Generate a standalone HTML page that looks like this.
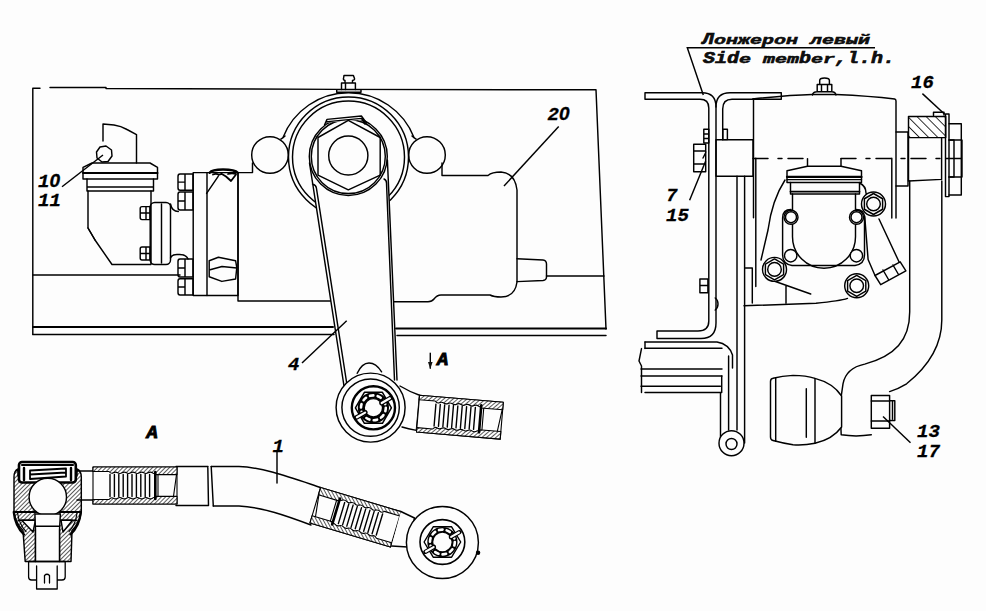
<!DOCTYPE html>
<html><head><meta charset="utf-8"><title>Steering gear</title>
<style>
html,body{margin:0;padding:0;background:#fdfdfd;}
body{width:986px;height:611px;overflow:hidden;}
svg{display:block;}
.lbl{font-family:"Liberation Mono",monospace;font-weight:bold;font-style:italic;font-size:19px;fill:#000;stroke:#000;stroke-width:0.3px;}
.z{font-family:"Liberation Sans",sans-serif;}
.mono{font-family:"Liberation Mono",monospace;font-weight:bold;font-style:italic;font-size:20px;fill:#111;}
</style></head>
<body>
<svg width="986" height="611" viewBox="0 0 986 611">
<defs>
<pattern id="hat" patternUnits="userSpaceOnUse" width="3" height="3" patternTransform="rotate(45)">
<rect width="3" height="3" fill="#fff"/><line x1="0" y1="0" x2="0" y2="3" stroke="#000" stroke-width="1.3"/>
</pattern>
<pattern id="hat2" patternUnits="userSpaceOnUse" width="6.5" height="6.5" patternTransform="rotate(-45)">
<rect width="6.5" height="6.5" fill="#fff"/><line x1="0" y1="0" x2="0" y2="6.5" stroke="#000" stroke-width="1.6"/>
</pattern>
<g id="sleeve" fill="none" stroke="#000" stroke-width="1.1">
<rect x="0" y="0" width="84" height="37" fill="#fdfdfd"/>
<path fill="url(#hat)" d="M0 0 V4.5 H16 Q18.18 7.10 20.35 5.80 Q22.53 4.50 24.70 5.80 Q26.88 7.10 29.05 5.80 Q31.23 4.50 33.40 5.80 Q35.58 7.10 37.75 5.80 Q39.93 4.50 42.10 5.80 Q44.28 7.10 46.45 5.80 Q48.63 4.50 50.80 5.80 Q52.98 7.10 55.15 5.80 Q57.33 4.50 59.50 5.80 Q60.75 7.10 62.00 5.80 V7.6 H84 V0 Z"/>
<path fill="url(#hat)" d="M0 37 V32.5 H16 Q18.18 29.90 20.35 31.20 Q22.53 32.50 24.70 31.20 Q26.88 29.90 29.05 31.20 Q31.23 32.50 33.40 31.20 Q35.58 29.90 37.75 31.20 Q39.93 32.50 42.10 31.20 Q44.28 29.90 46.45 31.20 Q48.63 32.50 50.80 31.20 Q52.98 29.90 55.15 31.20 Q57.33 32.50 59.50 31.20 Q60.75 29.90 62.00 31.20 V29.4 H84 V37 Z"/>
<path d="M17.0 7.5 V29.5 M21.4 7.5 V29.5 M25.8 7.5 V29.5 M30.2 7.5 V29.5 M34.6 7.5 V29.5 M39.0 7.5 V29.5 M43.4 7.5 V29.5 M47.8 7.5 V29.5 M52.2 7.5 V29.5 M56.6 7.5 V29.5" stroke-width="1.4"/>
<path d="M62.3 5 V32" stroke-width="2.6"/>
<path d="M65 7.6 V29.4"/>
<path d="M83.5 7.6 L80.5 29.4"/>
</g>
<g id="eye1" fill="none" stroke="#000" stroke-width="1.45">
<circle r="34.5" fill="#fdfdfd"/>
<circle r="28.7"/>
<g transform="translate(2.8 0.2)">
<circle r="21.6" stroke-width="2.4"/>
<path d="M-9 -15.5 H9 L18 0 L9 15.5 H-9 L-18 0 Z" stroke-width="1.5"/>
<circle r="12.4" stroke-width="6.4"/>
<circle r="12.4" stroke="#fdfdfd" stroke-width="2.6" stroke-dasharray="3.4 4.4"/>
<circle r="9.2" fill="#fdfdfd" stroke-width="1.4"/>
<path d="M8 -4.6 L17 -9.8 M-8 4.6 L-17 9.8" stroke-width="4.6"/>
<path d="M8.3 -4.8 L16.5 -9.5 M-8.3 4.8 L-16.5 9.5" stroke="#fdfdfd" stroke-width="2.2"/>
</g>
</g>
<g id="eye2" fill="none" stroke="#000" stroke-width="1.45">
<circle r="36" fill="#fdfdfd"/>
<g transform="translate(0 -0.5)">
<circle r="22.4" stroke-width="1.6"/>
<path d="M-9.2 -15.2 H9.2 L18.3 0 L9.2 15.2 H-9.2 L-18.3 0 Z" stroke-width="1.4"/>
<circle r="12.4" stroke-width="5.4"/>
<circle r="12.4" stroke="#fdfdfd" stroke-width="2.6" stroke-dasharray="3.6 4.2"/>
<circle r="9.8" fill="#fdfdfd" stroke-width="1.3"/>
<path d="M8.5 -4.9 L17 -9.8 M-8.5 4.9 L-17 9.8" stroke-width="4.4"/>
<path d="M8.8 -5.1 L16.5 -9.5 M-8.8 5.1 L-16.5 9.5" stroke="#fdfdfd" stroke-width="2.2"/>
</g>
</g>
<g id="nut" fill="none" stroke="#000" stroke-width="1.45">
<circle r="12" fill="#fdfdfd"/>
<path d="M0 -10.5 L9.1 -5.25 V5.25 L0 10.5 L-9.1 5.25 V-5.25 Z"/>
<circle r="6.8"/>
</g>
</defs>
<g fill="none" stroke="#000" stroke-width="1.45" stroke-linejoin="round" stroke-linecap="round">

<!-- ===== LEFT VIEW FRAME ===== -->
<path d="M32.8 88.3 V334.5 M32.8 88.3 H40 M50 87.4 H106 V88.5 L337 89.4 L596 89.8 L606 329"/>
<path d="M33 327 H333" stroke-width="2"/>
<path d="M33 334.5 H334"/>
<path d="M396 328.5 H606" stroke-width="2"/>
<path d="M397 335.5 H606"/>
<path d="M33 275 H180"/>
<path d="M546.5 276 H604"/>

<!-- ===== PUMP (10/11) ===== -->
<path d="M103 141 V124 L114 125 Q121 126 127 129.5 L136.5 134.6 V163"/>
<path d="M100 147 L106 146 L111.5 150 L112 156 L108 161.5 L102 162 L97 158 L96.5 152 Z" fill="#fdfdfd"/>
<path d="M92 163 H150 L157.5 167.4 V179 H83 V167.4 Z"/>
<path d="M83 173 H157.5" stroke-width="2"/>
<path d="M87 179 V191 H153.5 V179 M87 187 H153.5"/>
<path d="M88 191 V228 L95 240 L112 264.5 H151 V191"/>
<path d="M88 228 L95 240"/>
<rect x="150.2" y="202.5" width="20.3" height="62" rx="4.5"/>
<path d="M161.5 204 V263"/>
<path d="M142 206.6 h8 v13 h-8 q-1.8 0 -1.8 -2 v-9 q0 -2 1.8 -2 z M146 206.6 v13 M140.2 213 h9.8 M142 247 h8 v13 h-8 q-1.8 0 -1.8 -2 v-9 q0 -2 1.8 -2 z M146 247 v13 M140.2 253.5 h9.8"/>
<path d="M170.5 204 Q172 211.5 178.3 211.5 M170.5 258 Q172 254 178.3 254.5 Q186 254 188 259"/>

<!-- ===== GEARBOX (left view) ===== -->
<path d="M180 174 h13 v16.2 h-13 q-2 0 -2 -2.5 v-11.2 q0 -2.5 2 -2.5 z M185 174 v16.2 M178 182.1 h7"/>
<path d="M180 192 h13 v18.0 h-13 q-2 0 -2 -2.5 v-13.0 q0 -2.5 2 -2.5 z M185 192 v18.0 M178 201.0 h7"/>
<path d="M180 259 h13 v18.0 h-13 q-2 0 -2 -2.5 v-13.0 q0 -2.5 2 -2.5 z M185 259 v18.0 M178 268.0 h7"/>
<path d="M180 278.7 h13 v16.3 h-13 q-2 0 -2 -2.5 v-11.3 q0 -2.5 2 -2.5 z M185 278.7 v16.3 M178 286.9 h7"/>
<rect x="193.2" y="172.6" width="13.8" height="122.9"/>
<path d="M207 172.6 H238 V295.5 H207"/>
<path d="M206.6 193.4 L218.2 176.4"/>
<path d="M209.6 172.8 Q212 169.5 223 169.5 Q235 169.5 237.8 172.8" stroke-width="2.3"/>
<path d="M213 174.5 Q216 173 219 174.8 M218.5 175 L221.5 173.8 L226 176.5 L231 181 L236 174.5 M228 174 Q232 172.5 236 174" stroke-width="1.8"/>
<path d="M209.2 260.7 L218.4 257.2 L235.6 260.7 L236.8 267.6 L235.6 279 L221.8 281.4 L209.2 276.8 Z M209.2 270 L222 266.5 L236.8 268"/>
<path d="M238 172.6 V301 H331"/>
<path d="M238 172.6 H252.5 V163"/>
<!-- right part of box -->
<path d="M442 163 V175.5 H488 Q492 172 501 172 Q515 173 517 190 V282 Q515 297 501 297 Q494 297 490 295 H441 Q437 295 434 299 Q432 301.7 428 301.7 H392.5"/>
<path d="M517 258.7 L543 260 Q546.5 260.5 546.5 264 V277 Q546.5 280 543 280.5 L517 281.6"/>
<!-- bosses -->
<circle cx="270" cy="155" r="18.3"/>
<circle cx="427" cy="155" r="18.3"/>
<!-- housing rings -->
<path d="M283 137.5 A70.3 70.3 0 0 1 414 137.5"/>
<path d="M281 139 Q283 138 285 136 M416 139 Q414 138 412 136"/>
<circle cx="348.5" cy="157" r="60"/>
<circle cx="348.5" cy="157" r="56"/>
<!-- lever arm -->
<path fill="#fdfdfd" stroke="none" d="M309.5 163 L344 386 L397 380 L387.4 160 Z"/>
<circle cx="348.3" cy="156.5" r="39" fill="#fdfdfd"/>
<circle cx="348.3" cy="156.5" r="37"/>
<path d="M309.5 163 L344 386 M312.5 184 Q316 185 316.4 188 L347 385 M387.4 160 L397 380 M384 179 Q386.5 180 386.5 183 L394.5 380"/>
<path fill="#fdfdfd" stroke="none" d="M322 116 H372 V119 L328 122.5 Z"/>
<path d="M324.5 125 L327 119.4 L361.4 116 L366.5 123 M326 122 L328 121.6 L361.5 118.4 L365 124"/>
<!-- hex + shaft -->
<path d="M348.3 120.3 L380.2 137.5 V175.1 L348.3 189.8 L318 175.1 V137.5 Z"/>
<circle cx="348.3" cy="155.5" r="19.6"/>
<!-- top bolt -->
<path fill="#fdfdfd" d="M336.7 89.6 H361 V92.3 H336.7 Z"/>
<path d="M341.5 89.6 V83 H355.4 V89.6 M345.5 83 V89.6 M345 83 V80.5 Q343 80 343.5 78.5 L344 75.4 H353.4 L354.5 78.5 Q355 80 352.5 80.5 V83"/>

<!-- ===== LEVER BALL JOINT (center) ===== -->
<path fill="#fdfdfd" d="M357.2 373.3 Q362 363 369 363 Q376 363 381.6 371.8"/>
<path fill="#fdfdfd" d="M400 386 Q410 392 419.6 395.2 L416.4 430.4 Q408 429 402 427"/>
<g transform="translate(419.6 395.2) rotate(4.8)"><use href="#sleeve"/></g>
<g transform="translate(370.6 407.6)"><use href="#eye1"/></g>

<!-- ===== BOTTOM TIE ROD ===== -->
<!-- left ball joint -->
<g id="bj">
<path fill="url(#hat)" d="M14 477 Q14 471 18 469 V476 H77 V469 Q81.3 471 81.3 477 V512 Q80 522 72 530.6 L71 561.5 H59.5 V530 Q58 522 55 515 L40 515 Q37 522 35.5 530 V561.5 H25.2 L23 530.6 Q15 522 14 512 Z"/>
<path d="M14.5 512 H81" stroke-width="2"/>
<path d="M18 520.2 H77"/>
<path fill="#fdfdfd" d="M21.7 520.2 L35.5 520.2 L33 532 Z M61 520.2 L72.5 520.2 L63 532 Z"/>
<path d="M13.8 512 Q15 526 24 534.5 M80.8 512 Q79.5 526 70.5 534.5" stroke-width="2.4"/>
<path d="M17.5 513 Q19.5 525 26 531.5 M77 513 Q75.5 525 69 531.5" stroke-width="1.2"/>
<rect x="19" y="462" width="56.8" height="20.5" rx="3" fill="#fdfdfd" stroke-width="2.6"/>
<path d="M22 465 H73" stroke-width="2.2"/>
<path d="M24 468 V480 M71 468 V480" stroke-width="2.4"/>
<path d="M30 470.5 L66 468.5 M30 474.5 L66 472.5 M30 479 L66 476.5 M30 470.5 V479 M66 468.5 V476.5" stroke-width="1.8"/>
<circle cx="47.8" cy="497" r="18.7" fill="#fdfdfd" stroke-width="1.4"/>
<path fill="#fdfdfd" d="M34.9 514 H60.4 L59.5 530 V561.5 H35.5 V530 Z"/>
<path d="M36 526.3 H59" />
<path d="M28.6 561.5 H65.2 V577 Q65.2 580 62 580 H57.2 V589 H36.6 V580 H31.6 Q28.6 580 28.6 577 Z M36.6 579.8 V566 M57.2 579.8 V566 M44.5 583 V575.5 Q47 573 49.5 575.5 V583" stroke-width="1.3"/>
</g>
<path d="M77 471 H93 M77 500 H93"/>
<g transform="translate(93 467)"><use href="#sleeve"/></g>
<path d="M176 466.5 H208 M176 505.5 H208.5 M207.8 466.5 L208.5 505.5 M211.2 466.5 L213.3 506"/>
<path d="M211.2 466.5 H239 C262 467 292 478 320.6 487.5 M213.3 506 H239 C262 507 287 516 311 525"/>
<g transform="translate(320.6 487.5) rotate(16.7) translate(84 0) scale(-1 1)"><use href="#sleeve"/></g>
<path fill="#fdfdfd" d="M400.8 511.5 L414.5 518 L407.7 547 L391.6 546"/>
<g transform="translate(442.4 542.5)"><use href="#eye2"/></g>
<circle cx="478.1" cy="552.8" r="2.2" fill="#000" stroke="none"/>
<path d="M277 452 V483"/>

<!-- ===== RIGHT VIEW ===== -->
<!-- side member (left Z channel) -->
<path d="M645 92.8 H702 Q716 92.8 716 107 V323 Q716 338.5 701 338.5 H657 V331 H698 Q708.8 331 708.8 321 V108 Q708.8 99.3 700 99.3 H645 Z"/>
<!-- bracket channel -->
<path d="M781.3 92.8 H730 Q716 92.8 716 107 M781.3 92.8 V99.3 H732 Q722.7 99.3 722.7 109 V139.8"/>
<rect x="716" y="139.8" width="37" height="36.4"/>
<path d="M703.8 129.3 h5 v13.7 h-5 z M703.8 134 h5 M703.8 138.5 h5 M722.8 129.3 h4.6 v10.3 h-4.6 z"/>
<path d="M693.7 144.2 h12 v27.5 h-12 z M693.7 151 h12 M693.7 164 h12 M703 158 l3 -6"/>
<path d="M699.9 279 h8 v13.8 h-8 z M699.9 285.5 h8"/>
<path d="M715.2 298 Q718 300 718 304 Q718 308 715.2 310"/>
<!-- long rod + lower bracket -->
<path d="M737 176.2 V430 M744.6 176.2 V443"/>
<path d="M645 342 H717 Q729 344 732.5 355 V368 M728.6 356 V430 M721.7 376 V392.4 M720.5 392.4 V437"/>
<path d="M645 348.2 H722 M641 369 H722 M641 376 H722 M641 386.3 H720.4 M645 392.4 H720.4"/>
<path d="M645 342 V348.6 M641.5 348.6 L639 361 L641.5 366 V392.4"/>
<circle cx="731.5" cy="443.2" r="12.5" fill="#fdfdfd"/>
<circle cx="731.5" cy="444" r="5.5"/>
<!-- main housing -->
<path d="M752.7 99 Q790 95 812 94.5 H836 Q870 96 894.7 99 Q896 99.5 896 101 V218"/>
<path d="M891.8 158.3 V218 M755.8 158.3 V286.5 M753.5 99 V217.7 M745.4 268 H752.3 V303"/>
<path d="M812.4 95 Q813 91.8 817 91.8 H831.8 Q835.5 91.8 835.9 95 M817.2 91.8 V84.5 H831.8 V91.8 M821.5 84.5 V91.8 M827.5 84.5 V91.8 M819.7 84.5 V80.5 Q819.7 78 824.5 78 Q829.4 78 829.4 80.5 V84.5"/>
<path d="M753 158.5 H808 M841 158.5 H962" stroke-dasharray="15 10 4 6"/>
<!-- pin and hub (16) -->
<path d="M896 132 H908 V186 H896"/>
<rect x="908.5" y="116.4" width="37.2" height="21.2" fill="url(#hat2)"/>
<path d="M908.5 137.6 V181 L941.6 179.4 V137.6"/>
<path d="M933.5 115.5 V112.3 H944 V115"/>
<rect x="945.5" y="114" width="3.5" height="82.6"/>
<path d="M949 123.7 H961.3 V195 H949 M949 140 H961.3 M949 177 H961.3 M962 140 V177" />
<path d="M949 140 H954 V177 H949"/>
<!-- pump on right view -->
<path fill="#fdfdfd" d="M787 182.5 V170.8 L807.5 166.2 H841 L861.5 170.8 V182.5 Z"/>
<path d="M807.5 158.6 V166.2 M841 158.6 V166.2"/>
<path d="M787 176.9 H861.5" stroke-width="2.2"/>
<path d="M787 179.6 H861.5"/>
<path d="M790.5 182.5 V194 M859.5 182.5 V194 M790.5 194 H859.5"/>
<path d="M790.5 191.6 H859.5" stroke-width="1.8"/>
<path d="M792.5 194 V236.8 A31.5 31.5 0 0 0 855.5 236.8 V194"/>
<path d="M859.5 183 Q866 186 866 193 L868 198"/>
<path d="M782.6 218 Q782.6 209.5 791 209.5 M782.6 218 V255 Q782.6 264 792 265.5 H855 Q864.5 264 864.5 255 V218 Q864.5 209.5 856 209.5"/>
<circle cx="791" cy="217.2" r="7" fill="#fdfdfd"/><circle cx="791" cy="217.2" r="5.5"/>
<circle cx="856.5" cy="217.2" r="7" fill="#fdfdfd"/><circle cx="856.5" cy="217.2" r="5.5"/>
<circle cx="790.7" cy="255.7" r="6.2" fill="#fdfdfd"/>
<circle cx="856.4" cy="255.7" r="6.2" fill="#fdfdfd"/>
<path d="M785 180 Q772 200 768 230 L761 260"/>
<path d="M774 281 L810.7 294 M786 286 L786 303.2"/>
<path d="M744 305.8 Q790 304 816 303.2 Q840 301 847.5 298.4"/>
<path d="M864.7 216 L868.1 259.5 L875 275.5 M879 219 L899 261.8"/>
<path d="M875 275.5 L880.7 284.7 L905.9 270.9 L900.2 261.8 Z M883 270 L888.5 279.5 M893 265 L898.5 274.5"/>
<!-- hex nuts right view -->
<g transform="translate(873.5 204)"><use href="#nut"/></g>
<g transform="translate(774.5 269.4)"><use href="#nut"/></g>
<g transform="translate(856.7 285.8)"><use href="#nut"/></g>
<!-- steering arm -->
<path d="M909.7 181 V312 C909.7 340 895 356 864.7 364.1 Q846 368 843 383.8 L840 404.7 L841.2 434.8 Q856 437 871.3 434.8"/>
<path d="M941.8 181 V320 C941.8 345 930 365 906.6 383.8 Q898 389 889.6 391.6"/>
<path fill="#fdfdfd" d="M871.3 395.5 H889.6 V428.3 H871.3 Z"/>
<path d="M871.3 401 H889.6 M871.3 421 H889.6 M889.6 400.8 H894.8 V420.4 H889.6 M892.5 402 V419"/>
<!-- boot -->
<path fill="#fdfdfd" d="M773 378.2 Q782 376 793 375.4 Q806 375.5 815 378.4 C825 381 835 386 841.6 396 L841.6 427 C835 436 825 441 815 443.2 Q804 445.5 793 444.7 Q782 443 773 440.5 Q770.5 440 770.5 437 V381.5 Q770.5 378.6 773 378.2 Z"/>
<path d="M775.7 378 V441.3 M815 378.4 V443.2 M806.3 388.7 V437.3"/>
</g>

<!-- ===== LABELS ===== -->
<g class="lbl">
<text x="38" y="187">1<tspan class="z">0</tspan></text>
<text x="38" y="206">11</text>
<text x="547.5" y="120">2<tspan class="z">0</tspan></text>
<text x="288" y="370">4</text>
<text x="272.5" y="452">1</text>
<text x="666" y="201.4">7</text>
<text x="666" y="220.6">15</text>
<text x="911" y="87.7">16</text>
<text x="917" y="437.4">13</text>
<text x="917" y="457">17</text>
</g>
<text class="lbl" x="146.5" y="438" style="stroke-width:0.9px">A</text>
<text class="lbl" x="437" y="364.6" style="stroke-width:0.9px">A</text>
<g fill="none" stroke="#000" stroke-width="1.45">
<path d="M62 186.7 L103 155"/>
<path d="M558.7 126.4 L504 186"/>
<path d="M302 363 L346.7 320.7"/>
<path d="M689.6 200.3 L705.6 161.3"/>
<path d="M922.4 93.6 L944.7 114.3"/>
<path d="M910.5 442.7 L883 416.5"/>
<path d="M703.3 95 L687.3 47.7 H875"/>
<path d="M430.3 352.7 V368.7"/>
</g>
<path d="M428 362 L430.3 369 L432.6 362 Z" fill="#111"/>
<g stroke="#000" stroke-width="0.7">
<text class="mono" transform="translate(702.0 43.6) scale(1 0.8)">Л</text>
<text class="mono" transform="translate(714.0 43.6) scale(1 0.64)">о</text>
<text class="mono" transform="translate(726.0 43.6) scale(1 0.64)">н</text>
<text class="mono" transform="translate(738.0 43.6) scale(1 0.64)">ж</text>
<text class="mono" transform="translate(750.0 43.6) scale(1 0.64)">е</text>
<text class="mono" transform="translate(762.0 43.6) scale(1 0.64)">р</text>
<text class="mono" transform="translate(774.0 43.6) scale(1 0.64)">о</text>
<text class="mono" transform="translate(786.0 43.6) scale(1 0.64)">н</text>
<text class="mono" transform="translate(810.0 43.6) scale(1 0.64)">л</text>
<text class="mono" transform="translate(822.0 43.6) scale(1 0.64)">е</text>
<text class="mono" transform="translate(834.0 43.6) scale(1 0.64)">в</text>
<text class="mono" transform="translate(846.0 43.6) scale(1 0.64)">ы</text>
<text class="mono" transform="translate(858.0 43.6) scale(1 0.64)">й</text>
</g>
<g stroke="#000" stroke-width="0.7">
<text class="mono" transform="translate(703.0 62.6) scale(1 0.8)">S</text>
<text class="mono" transform="translate(715.0 62.6) scale(1 0.8)">i</text>
<text class="mono" transform="translate(727.0 62.6) scale(1 0.8)">d</text>
<text class="mono" transform="translate(739.0 62.6) scale(1 0.64)">e</text>
<text class="mono" transform="translate(763.0 62.6) scale(1 0.64)">m</text>
<text class="mono" transform="translate(775.0 62.6) scale(1 0.64)">e</text>
<text class="mono" transform="translate(787.0 62.6) scale(1 0.64)">m</text>
<text class="mono" transform="translate(799.0 62.6) scale(1 0.8)">b</text>
<text class="mono" transform="translate(811.0 62.6) scale(1 0.64)">e</text>
<text class="mono" transform="translate(823.0 62.6) scale(1 0.64)">r</text>
<text class="mono" transform="translate(835.0 62.6) scale(1 0.8)">,</text>
<text class="mono" transform="translate(847.0 62.6) scale(1 0.8)">l</text>
<text class="mono" transform="translate(859.0 62.6) scale(1 0.8)">.</text>
<text class="mono" transform="translate(871.0 62.6) scale(1 0.8)">h</text>
<text class="mono" transform="translate(883.0 62.6) scale(1 0.8)">.</text>
</g>
</svg>
</body></html>
